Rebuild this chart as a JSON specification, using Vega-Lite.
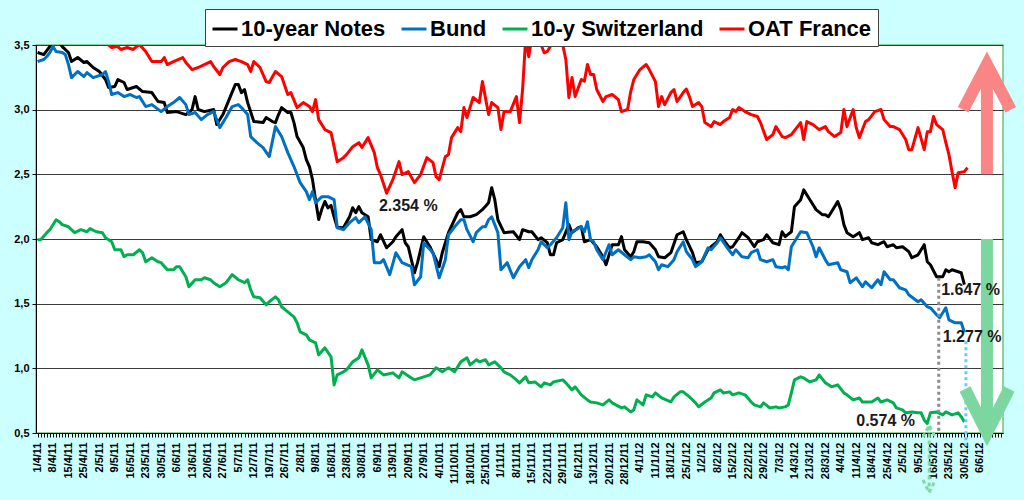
{
  "$schema": "https://vega.github.io/schema/vega-lite/v6.json",
  "description": "10-year government bond yields: US Notes, Bund, Switzerland, OAT France, April 2011 - June 2012",
  "width": 967,
  "height": 388,
  "autosize": {"type": "none"},
  "padding": {"left": 36, "top": 45, "right": 21, "bottom": 67},
  "background": "#CCFFFF",
  "config": {
    "view": {"fill": "white", "stroke": "#78C078", "strokeWidth": 1.5},
    "font": "Liberation Sans"
  },
  "encoding": {
    "x": {
      "field": "t",
      "type": "quantitative",
      "scale": {"domain": [-0.5, 312.5], "nice": false, "zero": false},
      "axis": {
        "title": null,
        "grid": false,
        "tickCount": 313,
        "tickSize": 4,
        "tickColor": "black",
        "domainColor": "black",
        "labelAngle": -90,
        "labelAlign": "right",
        "labelBaseline": "middle",
        "labelPadding": 5,
        "labelFontSize": 11,
        "labelFontWeight": "bold",
        "labelColor": "black",
        "labelOverlap": false,
        "labelFlush": false,
        "labelBound": false,
        "labelExpr": "(datum.value % 5 === 0 && datum.value >= 0 && datum.value <= 305) ? ['1/4/11','8/4/11','15/4/11','25/4/11','2/5/11','9/5/11','16/5/11','23/5/11','30/5/11','6/6/11','13/6/11','20/6/11','27/6/11','5/7/11','12/7/11','19/7/11','26/7/11','2/8/11','9/8/11','16/8/11','23/8/11','30/8/11','6/9/11','13/9/11','20/9/11','27/9/11','4/10/11','11/10/11','18/10/11','25/10/11','1/11/11','8/11/11','15/11/11','22/11/11','29/11/11','6/12/11','13/12/11','20/12/11','28/12/11','4/1/12','11/1/12','18/1/12','25/1/12','1/2/12','8/2/12','15/2/12','22/2/12','29/2/12','7/3/12','14/3/12','21/3/12','28/3/12','4/4/12','11/4/12','18/4/12','25/4/12','2/5/12','9/5/12','16/5/12','23/5/12','30/5/12','6/6/12'][datum.value / 5] : ''"
      }
    },
    "y": {
      "field": "v",
      "type": "quantitative",
      "scale": {"domain": [0.5, 3.5], "nice": false, "zero": false},
      "axis": {
        "title": null,
        "values": [0.5, 1, 1.5, 2, 2.5, 3, 3.5],
        "labelExpr": "replace(format(datum.value, '.1f'), '.', ',')",
        "labelFontSize": 11,
        "labelFontWeight": "bold",
        "labelColor": "black",
        "labelPadding": 3,
        "tickSize": 4,
        "tickColor": "black",
        "domainColor": "black",
        "grid": true,
        "gridColor": "#3A3A3A",
        "gridWidth": 1
      }
    }
  },
  "layer": [
    {
      "data": {"values": [
        {"t":0,"v":3.442},{"t":2,"v":3.426},{"t":4,"v":3.49},{"t":5,"v":3.53},{"t":6,"v":3.55},{"t":7,"v":3.52},{"t":8,"v":3.488},{"t":10,"v":3.442},{"t":11,"v":3.372},{"t":13,"v":3.403},{"t":15,"v":3.365},{"t":16,"v":3.372},{"t":18,"v":3.326},{"t":20,"v":3.295},{"t":22,"v":3.233},{"t":23,"v":3.171},{"t":25,"v":3.179},{"t":26,"v":3.233},{"t":28,"v":3.21},{"t":29,"v":3.156},{"t":32,"v":3.179},{"t":34,"v":3.14},{"t":37,"v":3.132},{"t":39,"v":3.063},{"t":41,"v":3.055},{"t":42,"v":2.978},{"t":45,"v":2.985},{"t":48,"v":2.962},{"t":50,"v":3.001},{"t":51,"v":3.101},{"t":52,"v":3.001},{"t":54,"v":2.985},{"t":57,"v":3.001},{"t":58,"v":2.885},{"t":60,"v":2.962},{"t":62,"v":3.078},{"t":64,"v":3.194},{"t":65,"v":3.194},{"t":66,"v":3.132},{"t":67,"v":3.156},{"t":68,"v":3.055},{"t":70,"v":2.908},{"t":73,"v":2.9},{"t":74,"v":2.939},{"t":76,"v":2.908},{"t":77,"v":2.9},{"t":78,"v":2.962},{"t":79,"v":3.016},{"t":81,"v":2.978},{"t":82,"v":2.978},{"t":83,"v":2.9},{"t":84,"v":2.792},{"t":86,"v":2.707},{"t":87,"v":2.614},{"t":88,"v":2.559},{"t":89,"v":2.459},{"t":90,"v":2.3},{"t":91,"v":2.15},{"t":92,"v":2.23},{"t":93,"v":2.29},{"t":94,"v":2.24},{"t":95,"v":2.26},{"t":96,"v":2.17},{"t":97,"v":2.09},{"t":99,"v":2.087},{"t":101,"v":2.172},{"t":102,"v":2.242},{"t":103,"v":2.203},{"t":104,"v":2.25},{"t":105,"v":2.203},{"t":107,"v":2.172},{"t":108,"v":1.995},{"t":110,"v":1.979},{"t":111,"v":2.033},{"t":113,"v":1.932},{"t":115,"v":1.979},{"t":116,"v":2.018},{"t":118,"v":2.072},{"t":119,"v":1.971},{"t":120,"v":1.94},{"t":122,"v":1.739},{"t":123,"v":1.817},{"t":125,"v":2.018},{"t":127,"v":1.94},{"t":129,"v":1.84},{"t":130,"v":1.786},{"t":131,"v":1.894},{"t":133,"v":2.049},{"t":136,"v":2.203},{"t":137,"v":2.227},{"t":138,"v":2.172},{"t":140,"v":2.172},{"t":142,"v":2.188},{"t":144,"v":2.227},{"t":146,"v":2.281},{"t":147,"v":2.397},{"t":148,"v":2.304},{"t":149,"v":2.149},{"t":151,"v":2.049},{"t":154,"v":2.056},{"t":156,"v":1.995},{"t":157,"v":2.072},{"t":159,"v":2.056},{"t":160,"v":2.056},{"t":162,"v":1.995},{"t":163,"v":2.01},{"t":165,"v":1.971},{"t":166,"v":1.878},{"t":167,"v":1.878},{"t":168,"v":1.971},{"t":170,"v":1.995},{"t":172,"v":2.111},{"t":173,"v":2.049},{"t":175,"v":2.087},{"t":176,"v":2.095},{"t":177,"v":1.979},{"t":179,"v":1.995},{"t":181,"v":1.94},{"t":183,"v":1.863},{"t":184,"v":1.801},{"t":186,"v":1.956},{"t":188,"v":1.956},{"t":189,"v":2.018},{"t":190,"v":1.917},{"t":192,"v":1.863},{"t":193,"v":1.902},{"t":194,"v":1.979},{"t":196,"v":1.979},{"t":198,"v":1.971},{"t":200,"v":1.917},{"t":201,"v":1.863},{"t":203,"v":1.855},{"t":205,"v":1.894},{"t":207,"v":2.033},{"t":209,"v":2.056},{"t":210,"v":1.995},{"t":212,"v":1.894},{"t":213,"v":1.817},{"t":215,"v":1.824},{"t":217,"v":1.917},{"t":218,"v":1.94},{"t":220,"v":1.979},{"t":221,"v":2.033},{"t":222,"v":1.995},{"t":224,"v":1.932},{"t":225,"v":1.94},{"t":227,"v":2.01},{"t":228,"v":2.049},{"t":230,"v":2.01},{"t":232,"v":1.94},{"t":233,"v":1.979},{"t":235,"v":1.995},{"t":236,"v":2.033},{"t":238,"v":1.971},{"t":240,"v":1.956},{"t":241,"v":2.056},{"t":242,"v":2.018},{"t":244,"v":2.056},{"t":245,"v":2.25},{"t":247,"v":2.304},{"t":248,"v":2.38},{"t":250,"v":2.304},{"t":252,"v":2.227},{"t":254,"v":2.188},{"t":255,"v":2.188},{"t":256,"v":2.172},{"t":257,"v":2.211},{"t":259,"v":2.289},{"t":260,"v":2.227},{"t":261,"v":2.111},{"t":262,"v":2.049},{"t":264,"v":2.018},{"t":266,"v":2.049},{"t":267,"v":1.995},{"t":269,"v":2.01},{"t":270,"v":1.971},{"t":272,"v":1.956},{"t":274,"v":1.979},{"t":275,"v":1.94},{"t":277,"v":1.956},{"t":278,"v":1.932},{"t":280,"v":1.94},{"t":282,"v":1.902},{"t":283,"v":1.855},{"t":285,"v":1.878},{"t":287,"v":1.956},{"t":288,"v":1.824},{"t":289,"v":1.801},{"t":291,"v":1.708},{"t":293,"v":1.708},{"t":294,"v":1.762},{"t":295,"v":1.747},{"t":296,"v":1.762},{"t":298,"v":1.747},{"t":299,"v":1.739},{"t":300,"v":1.647}
      ]},
      "mark": {"type": "line", "strokeWidth": 3, "clip": true, "strokeJoin": "round"},
      "encoding": {
        "color": {
          "datum": "10-year Notes",
          "type": "nominal",
          "scale": {
            "domain": ["10-year Notes", "Bund", "10-y Switzerland", "OAT France"],
            "range": ["#000000", "#0070C0", "#00B050", "#FF0000"]
          },
          "legend": {
            "title": null,
            "orient": "none",
            "legendX": 169,
            "legendY": -36,
            "direction": "horizontal",
            "fillColor": "white",
            "strokeColor": "#404040",
            "padding": 6,
            "symbolType": "stroke",
            "symbolSize": 625,
            "symbolStrokeWidth": 3,
            "labelFontSize": 22,
            "labelFontWeight": "bold",
            "labelColor": "black",
            "labelOffset": 2,
            "columnPadding": 9,
            "labelLimit": 400
          }
        }
      }
    },
    {
      "data": {"values": [
        {"t":0,"v":3.372},{"t":2,"v":3.388},{"t":3,"v":3.411},{"t":4,"v":3.442},{"t":5,"v":3.488},{"t":6,"v":3.45},{"t":8,"v":3.442},{"t":9,"v":3.426},{"t":10,"v":3.349},{"t":11,"v":3.248},{"t":12,"v":3.272},{"t":13,"v":3.295},{"t":15,"v":3.256},{"t":16,"v":3.287},{"t":18,"v":3.248},{"t":19,"v":3.256},{"t":21,"v":3.272},{"t":22,"v":3.295},{"t":23,"v":3.217},{"t":24,"v":3.117},{"t":26,"v":3.132},{"t":28,"v":3.101},{"t":30,"v":3.117},{"t":32,"v":3.094},{"t":33,"v":3.101},{"t":35,"v":3.024},{"t":37,"v":3.039},{"t":40,"v":2.985},{"t":42,"v":3.024},{"t":44,"v":3.055},{"t":46,"v":3.094},{"t":48,"v":3.039},{"t":49,"v":2.962},{"t":51,"v":2.978},{"t":53,"v":2.923},{"t":55,"v":2.962},{"t":57,"v":2.985},{"t":59,"v":2.861},{"t":61,"v":2.939},{"t":63,"v":3.024},{"t":65,"v":3.039},{"t":66,"v":3.016},{"t":68,"v":2.962},{"t":69,"v":2.792},{"t":71,"v":2.745},{"t":73,"v":2.707},{"t":75,"v":2.637},{"t":77,"v":2.869},{"t":79,"v":2.792},{"t":81,"v":2.668},{"t":83,"v":2.56},{"t":85,"v":2.436},{"t":87,"v":2.366},{"t":88,"v":2.304},{"t":89,"v":2.366},{"t":90,"v":2.281},{"t":91,"v":2.304},{"t":92,"v":2.327},{"t":94,"v":2.327},{"t":96,"v":2.304},{"t":97,"v":2.087},{"t":99,"v":2.072},{"t":101,"v":2.126},{"t":103,"v":2.165},{"t":104,"v":2.126},{"t":106,"v":2.172},{"t":108,"v":2.072},{"t":109,"v":1.817},{"t":111,"v":1.817},{"t":112,"v":1.84},{"t":114,"v":1.724},{"t":116,"v":1.894},{"t":118,"v":1.817},{"t":121,"v":1.786},{"t":122,"v":1.646},{"t":124,"v":1.708},{"t":125,"v":1.971},{"t":128,"v":1.894},{"t":130,"v":1.7},{"t":132,"v":1.84},{"t":133,"v":2.033},{"t":135,"v":2.095},{"t":137,"v":2.149},{"t":138,"v":2.149},{"t":139,"v":2.072},{"t":141,"v":1.979},{"t":142,"v":2.049},{"t":144,"v":2.095},{"t":145,"v":2.095},{"t":146,"v":2.149},{"t":147,"v":2.172},{"t":149,"v":2.049},{"t":150,"v":1.762},{"t":152,"v":1.817},{"t":154,"v":1.7},{"t":156,"v":1.786},{"t":158,"v":1.84},{"t":159,"v":1.778},{"t":160,"v":1.84},{"t":162,"v":1.917},{"t":163,"v":1.979},{"t":165,"v":1.932},{"t":166,"v":1.956},{"t":168,"v":2.01},{"t":170,"v":2.087},{"t":171,"v":2.281},{"t":172,"v":1.995},{"t":173,"v":2.056},{"t":176,"v":2.095},{"t":177,"v":2.056},{"t":178,"v":2.134},{"t":179,"v":1.995},{"t":180,"v":1.979},{"t":181,"v":1.917},{"t":183,"v":1.84},{"t":185,"v":1.956},{"t":186,"v":1.878},{"t":188,"v":1.917},{"t":190,"v":1.878},{"t":192,"v":1.84},{"t":193,"v":1.863},{"t":195,"v":1.855},{"t":197,"v":1.863},{"t":198,"v":1.878},{"t":200,"v":1.824},{"t":201,"v":1.762},{"t":202,"v":1.801},{"t":204,"v":1.786},{"t":206,"v":1.84},{"t":207,"v":1.902},{"t":209,"v":1.979},{"t":210,"v":1.902},{"t":212,"v":1.84},{"t":213,"v":1.786},{"t":215,"v":1.824},{"t":217,"v":1.932},{"t":218,"v":1.917},{"t":220,"v":1.971},{"t":221,"v":2.01},{"t":223,"v":1.94},{"t":225,"v":1.878},{"t":226,"v":1.917},{"t":228,"v":1.863},{"t":230,"v":1.855},{"t":231,"v":1.894},{"t":233,"v":1.917},{"t":234,"v":1.84},{"t":236,"v":1.824},{"t":238,"v":1.84},{"t":239,"v":1.786},{"t":241,"v":1.778},{"t":242,"v":1.786},{"t":243,"v":1.762},{"t":244,"v":1.94},{"t":246,"v":2.018},{"t":247,"v":2.056},{"t":249,"v":2.049},{"t":251,"v":1.94},{"t":252,"v":1.863},{"t":253,"v":1.932},{"t":255,"v":1.84},{"t":256,"v":1.801},{"t":259,"v":1.817},{"t":260,"v":1.762},{"t":262,"v":1.747},{"t":263,"v":1.662},{"t":265,"v":1.7},{"t":267,"v":1.631},{"t":268,"v":1.669},{"t":270,"v":1.623},{"t":272,"v":1.685},{"t":273,"v":1.646},{"t":274,"v":1.747},{"t":276,"v":1.685},{"t":277,"v":1.685},{"t":279,"v":1.623},{"t":281,"v":1.607},{"t":282,"v":1.569},{"t":285,"v":1.515},{"t":286,"v":1.53},{"t":288,"v":1.476},{"t":289,"v":1.468},{"t":291,"v":1.414},{"t":292,"v":1.391},{"t":294,"v":1.468},{"t":295,"v":1.375},{"t":297,"v":1.352},{"t":299,"v":1.352},{"t":300,"v":1.277}
      ]},
      "mark": {"type": "line", "strokeWidth": 3, "clip": true, "strokeJoin": "round"},
      "encoding": {"color": {"datum": "Bund", "type": "nominal"}}
    },
    {
      "data": {"values": [
        {"t":0,"v":1.995},{"t":1,"v":1.995},{"t":3,"v":2.049},{"t":4,"v":2.072},{"t":6,"v":2.149},{"t":7,"v":2.134},{"t":8,"v":2.111},{"t":10,"v":2.095},{"t":12,"v":2.049},{"t":14,"v":2.072},{"t":16,"v":2.056},{"t":17,"v":2.08},{"t":19,"v":2.056},{"t":21,"v":2.049},{"t":22,"v":2.01},{"t":24,"v":1.979},{"t":25,"v":1.917},{"t":27,"v":1.917},{"t":28,"v":1.863},{"t":29,"v":1.878},{"t":31,"v":1.878},{"t":33,"v":1.917},{"t":34,"v":1.894},{"t":35,"v":1.824},{"t":37,"v":1.855},{"t":39,"v":1.824},{"t":40,"v":1.817},{"t":42,"v":1.762},{"t":44,"v":1.762},{"t":45,"v":1.786},{"t":46,"v":1.786},{"t":48,"v":1.708},{"t":49,"v":1.631},{"t":51,"v":1.685},{"t":53,"v":1.685},{"t":54,"v":1.7},{"t":56,"v":1.685},{"t":57,"v":1.662},{"t":59,"v":1.631},{"t":61,"v":1.662},{"t":63,"v":1.724},{"t":65,"v":1.685},{"t":67,"v":1.662},{"t":68,"v":1.685},{"t":69,"v":1.607},{"t":70,"v":1.553},{"t":72,"v":1.546},{"t":74,"v":1.491},{"t":75,"v":1.515},{"t":77,"v":1.553},{"t":78,"v":1.53},{"t":79,"v":1.476},{"t":81,"v":1.437},{"t":83,"v":1.398},{"t":84,"v":1.352},{"t":85,"v":1.282},{"t":87,"v":1.259},{"t":88,"v":1.22},{"t":90,"v":1.197},{"t":91,"v":1.104},{"t":93,"v":1.159},{"t":95,"v":1.089},{"t":96,"v":0.872},{"t":97,"v":0.949},{"t":99,"v":0.973},{"t":100,"v":0.988},{"t":102,"v":1.05},{"t":104,"v":1.081},{"t":105,"v":1.143},{"t":107,"v":1.027},{"t":108,"v":0.926},{"t":110,"v":0.988},{"t":112,"v":0.949},{"t":115,"v":0.965},{"t":117,"v":0.926},{"t":118,"v":0.973},{"t":121,"v":0.926},{"t":122,"v":0.911},{"t":124,"v":0.926},{"t":127,"v":0.949},{"t":129,"v":1.004},{"t":131,"v":0.973},{"t":133,"v":1.004},{"t":135,"v":0.973},{"t":137,"v":1.05},{"t":139,"v":1.081},{"t":140,"v":1.027},{"t":142,"v":1.066},{"t":143,"v":1.05},{"t":145,"v":1.066},{"t":146,"v":1.027},{"t":148,"v":1.05},{"t":150,"v":1.004},{"t":151,"v":0.973},{"t":153,"v":0.949},{"t":155,"v":0.911},{"t":156,"v":0.888},{"t":158,"v":0.934},{"t":159,"v":0.888},{"t":161,"v":0.895},{"t":163,"v":0.857},{"t":164,"v":0.888},{"t":166,"v":0.872},{"t":167,"v":0.895},{"t":170,"v":0.911},{"t":171,"v":0.888},{"t":173,"v":0.833},{"t":174,"v":0.857},{"t":176,"v":0.795},{"t":178,"v":0.756},{"t":179,"v":0.74},{"t":181,"v":0.733},{"t":183,"v":0.717},{"t":185,"v":0.756},{"t":186,"v":0.733},{"t":189,"v":0.694},{"t":190,"v":0.702},{"t":192,"v":0.663},{"t":193,"v":0.679},{"t":194,"v":0.756},{"t":196,"v":0.717},{"t":197,"v":0.795},{"t":199,"v":0.779},{"t":200,"v":0.81},{"t":202,"v":0.771},{"t":205,"v":0.74},{"t":206,"v":0.779},{"t":208,"v":0.818},{"t":209,"v":0.818},{"t":211,"v":0.779},{"t":213,"v":0.733},{"t":214,"v":0.702},{"t":216,"v":0.74},{"t":218,"v":0.771},{"t":219,"v":0.81},{"t":221,"v":0.833},{"t":222,"v":0.81},{"t":224,"v":0.818},{"t":225,"v":0.795},{"t":227,"v":0.81},{"t":229,"v":0.795},{"t":231,"v":0.74},{"t":232,"v":0.717},{"t":234,"v":0.702},{"t":235,"v":0.733},{"t":237,"v":0.694},{"t":239,"v":0.702},{"t":240,"v":0.694},{"t":242,"v":0.702},{"t":243,"v":0.717},{"t":244,"v":0.81},{"t":245,"v":0.911},{"t":247,"v":0.934},{"t":248,"v":0.926},{"t":250,"v":0.895},{"t":252,"v":0.911},{"t":253,"v":0.949},{"t":255,"v":0.888},{"t":257,"v":0.857},{"t":259,"v":0.872},{"t":261,"v":0.81},{"t":262,"v":0.795},{"t":264,"v":0.756},{"t":266,"v":0.771},{"t":267,"v":0.74},{"t":269,"v":0.74},{"t":270,"v":0.74},{"t":272,"v":0.771},{"t":273,"v":0.74},{"t":275,"v":0.756},{"t":277,"v":0.733},{"t":278,"v":0.694},{"t":280,"v":0.679},{"t":281,"v":0.656},{"t":283,"v":0.663},{"t":285,"v":0.656},{"t":286,"v":0.656},{"t":287,"v":0.601},{"t":288,"v":0.574},{"t":289,"v":0.656},{"t":291,"v":0.663},{"t":293,"v":0.64},{"t":294,"v":0.663},{"t":296,"v":0.64},{"t":298,"v":0.656},{"t":299,"v":0.625},{"t":300,"v":0.586}
      ]},
      "mark": {"type": "line", "strokeWidth": 3, "clip": true, "strokeJoin": "round"},
      "encoding": {"color": {"datum": "10-y Switzerland", "type": "nominal"}}
    },
    {
      "data": {"values": [
        {"t":0,"v":3.62},{"t":5,"v":3.68},{"t":10,"v":3.66},{"t":15,"v":3.6},{"t":20,"v":3.56},{"t":23,"v":3.5},{"t":24,"v":3.481},{"t":26,"v":3.488},{"t":27,"v":3.465},{"t":29,"v":3.481},{"t":31,"v":3.465},{"t":32,"v":3.488},{"t":33,"v":3.504},{"t":35,"v":3.45},{"t":37,"v":3.372},{"t":40,"v":3.372},{"t":41,"v":3.403},{"t":42,"v":3.349},{"t":44,"v":3.372},{"t":47,"v":3.403},{"t":48,"v":3.365},{"t":50,"v":3.31},{"t":52,"v":3.326},{"t":54,"v":3.349},{"t":56,"v":3.372},{"t":57,"v":3.334},{"t":59,"v":3.272},{"t":60,"v":3.326},{"t":62,"v":3.372},{"t":64,"v":3.388},{"t":66,"v":3.372},{"t":68,"v":3.349},{"t":69,"v":3.295},{"t":70,"v":3.372},{"t":72,"v":3.326},{"t":74,"v":3.217},{"t":75,"v":3.21},{"t":77,"v":3.295},{"t":79,"v":3.256},{"t":81,"v":3.117},{"t":82,"v":3.132},{"t":84,"v":3.016},{"t":86,"v":3.055},{"t":88,"v":3.024},{"t":89,"v":2.985},{"t":90,"v":3.078},{"t":91,"v":2.923},{"t":93,"v":2.846},{"t":95,"v":2.823},{"t":96,"v":2.714},{"t":97,"v":2.598},{"t":99,"v":2.629},{"t":100,"v":2.652},{"t":102,"v":2.714},{"t":104,"v":2.745},{"t":105,"v":2.707},{"t":107,"v":2.784},{"t":109,"v":2.668},{"t":110,"v":2.552},{"t":111,"v":2.498},{"t":113,"v":2.354},{"t":115,"v":2.459},{"t":117,"v":2.598},{"t":118,"v":2.498},{"t":120,"v":2.521},{"t":122,"v":2.436},{"t":124,"v":2.498},{"t":126,"v":2.629},{"t":128,"v":2.59},{"t":129,"v":2.482},{"t":130,"v":2.459},{"t":132,"v":2.637},{"t":133,"v":2.652},{"t":134,"v":2.784},{"t":136,"v":2.861},{"t":137,"v":2.83},{"t":138,"v":3.016},{"t":139,"v":2.939},{"t":141,"v":3.094},{"t":143,"v":3.055},{"t":144,"v":3.217},{"t":146,"v":2.962},{"t":147,"v":3.055},{"t":149,"v":3.016},{"t":150,"v":2.846},{"t":151,"v":2.985},{"t":153,"v":2.985},{"t":155,"v":3.101},{"t":156,"v":2.9},{"t":157,"v":3.156},{"t":158,"v":3.55},{"t":159,"v":3.41},{"t":160,"v":3.56},{"t":161,"v":3.62},{"t":162,"v":3.58},{"t":163,"v":3.5},{"t":164,"v":3.44},{"t":165,"v":3.45},{"t":166,"v":3.49},{"t":167,"v":3.56},{"t":168,"v":3.6},{"t":169,"v":3.55},{"t":170,"v":3.5},{"t":171,"v":3.388},{"t":172,"v":3.094},{"t":173,"v":3.248},{"t":174,"v":3.101},{"t":176,"v":3.233},{"t":177,"v":3.22},{"t":178,"v":3.35},{"t":179,"v":3.272},{"t":180,"v":3.272},{"t":181,"v":3.156},{"t":183,"v":3.063},{"t":184,"v":3.101},{"t":186,"v":3.117},{"t":188,"v":3.078},{"t":189,"v":2.985},{"t":191,"v":3.001},{"t":192,"v":3.14},{"t":193,"v":3.233},{"t":195,"v":3.31},{"t":197,"v":3.349},{"t":198,"v":3.31},{"t":200,"v":3.217},{"t":201,"v":3.024},{"t":202,"v":3.101},{"t":203,"v":3.039},{"t":205,"v":3.132},{"t":206,"v":3.156},{"t":207,"v":3.063},{"t":209,"v":3.132},{"t":210,"v":3.16},{"t":211,"v":3.101},{"t":212,"v":3.024},{"t":214,"v":3.055},{"t":215,"v":3.024},{"t":216,"v":2.9},{"t":218,"v":2.869},{"t":219,"v":2.908},{"t":221,"v":2.885},{"t":222,"v":2.908},{"t":224,"v":2.939},{"t":225,"v":3.001},{"t":226,"v":2.985},{"t":227,"v":3.016},{"t":229,"v":2.985},{"t":231,"v":2.962},{"t":233,"v":2.947},{"t":234,"v":2.9},{"t":236,"v":2.769},{"t":238,"v":2.807},{"t":239,"v":2.869},{"t":241,"v":2.792},{"t":242,"v":2.784},{"t":244,"v":2.807},{"t":247,"v":2.9},{"t":248,"v":2.769},{"t":249,"v":2.908},{"t":251,"v":2.885},{"t":253,"v":2.846},{"t":255,"v":2.869},{"t":256,"v":2.83},{"t":258,"v":2.792},{"t":260,"v":2.823},{"t":261,"v":3.001},{"t":262,"v":2.869},{"t":264,"v":3.001},{"t":265,"v":2.861},{"t":266,"v":2.784},{"t":268,"v":2.908},{"t":269,"v":2.923},{"t":271,"v":2.985},{"t":273,"v":3.001},{"t":274,"v":2.923},{"t":276,"v":2.869},{"t":277,"v":2.869},{"t":279,"v":2.846},{"t":281,"v":2.769},{"t":282,"v":2.691},{"t":283,"v":2.691},{"t":285,"v":2.861},{"t":287,"v":2.691},{"t":288,"v":2.83},{"t":289,"v":2.83},{"t":290,"v":2.947},{"t":291,"v":2.885},{"t":293,"v":2.846},{"t":294,"v":2.745},{"t":295,"v":2.652},{"t":296,"v":2.521},{"t":297,"v":2.397},{"t":298,"v":2.513},{"t":300,"v":2.521},{"t":301,"v":2.552}
      ]},
      "mark": {"type": "line", "strokeWidth": 3, "clip": true, "strokeJoin": "round"},
      "encoding": {"color": {"datum": "OAT France", "type": "nominal"}}
    },
    {
      "data": {"values": [
        {"a": "notes", "k": 0, "t": 291.7, "v": 1.70},
        {"a": "notes", "k": 1, "t": 291.7, "v": 0.5}
      ]},
      "mark": {"type": "line", "stroke": "#8C8C8C", "strokeWidth": 3, "strokeDash": [3, 3], "clip": false},
      "encoding": {"detail": {"field": "a"}, "order": {"field": "k"}}
    },
    {
      "data": {"values": [
        {"a": "bund", "k": 0, "t": 300.5, "v": 1.21},
        {"a": "bund", "k": 1, "t": 300.5, "v": 0.39}
      ]},
      "mark": {"type": "line", "stroke": "#66CCFF", "strokeWidth": 3, "strokeDash": [3, 3], "clip": false},
      "encoding": {"detail": {"field": "a"}, "order": {"field": "k"}}
    },
    {
      "data": {"values": [
        {"a": "stem", "k": 0, "t": 288.6, "v": 0.55},
        {"a": "stem", "k": 1, "t": 288.6, "v": 0.05},
        {"a": "top", "k": 0, "t": 286.6, "v": 0.47},
        {"a": "top", "k": 1, "t": 288.6, "v": 0.56},
        {"a": "top", "k": 2, "t": 290.6, "v": 0.47},
        {"a": "bottom", "k": 0, "t": 286.6, "v": 0.137},
        {"a": "bottom", "k": 1, "t": 288.6, "v": 0.04},
        {"a": "bottom", "k": 2, "t": 290.6, "v": 0.137}
      ]},
      "mark": {"type": "line", "stroke": "#7FDBA3", "strokeWidth": 3, "strokeDash": [4, 3], "clip": false},
      "encoding": {"detail": {"field": "a"}, "order": {"field": "k"}}
    },
    {
      "data": {"values": [
        {"a": "shaft", "k": 0, "t": 307.3, "v": 2.5},
        {"a": "shaft", "k": 1, "t": 307.3, "v": 3.27},
        {"a": "head", "k": 0, "t": 299.6, "v": 3.0},
        {"a": "head", "k": 1, "t": 307.3, "v": 3.35},
        {"a": "head", "k": 2, "t": 315.0, "v": 3.0}
      ]},
      "mark": {"type": "line", "stroke": "#FA8585", "strokeWidth": 12, "strokeCap": "butt", "strokeJoin": "miter", "clip": false},
      "encoding": {"detail": {"field": "a"}, "order": {"field": "k"}}
    },
    {
      "data": {"values": [
        {"a": "shaft", "k": 0, "t": 307.3, "v": 2.0},
        {"a": "shaft", "k": 1, "t": 307.3, "v": 0.58},
        {"a": "head", "k": 0, "t": 300.2, "v": 0.84},
        {"a": "head", "k": 1, "t": 307.3, "v": 0.5},
        {"a": "head", "k": 2, "t": 314.5, "v": 0.84}
      ]},
      "mark": {"type": "line", "stroke": "#7BD6A0", "strokeWidth": 12, "strokeCap": "butt", "strokeJoin": "miter", "clip": false},
      "encoding": {"detail": {"field": "a"}, "order": {"field": "k"}}
    },
    {
      "data": {"values": [
        {"t": 110.5, "v": 2.252, "label": "2.354 %"},
        {"t": 292.5, "v": 1.602, "label": "1.647 %"},
        {"t": 293.0, "v": 1.246, "label": "1.277 %"},
        {"t": 265.0, "v": 0.596, "label": "0.574 %"}
      ]},
      "mark": {"type": "text", "align": "left", "baseline": "middle", "fontSize": 16, "fontWeight": "bold", "color": "#1A1A1A", "clip": false},
      "encoding": {"text": {"field": "label"}}
    }
  ]
}
